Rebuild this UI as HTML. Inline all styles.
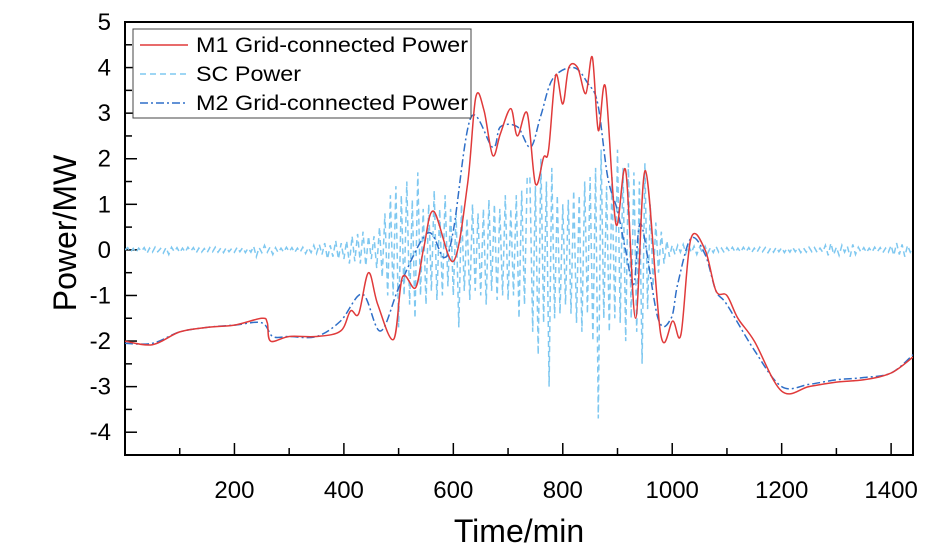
<!DOCTYPE html>
<html><head><meta charset="utf-8"><style>
html,body{margin:0;padding:0;background:#fff;}
svg{display:block;font-family:"Liberation Sans",Arial,sans-serif;}
</style></head><body>
<svg id="chart" width="938" height="555" viewBox="0 0 938 555">
<g id="axes"></g>
<g id="plot"></g>
<g id="legend"></g>
</svg>
<script>
const xTicks = [200,400,600,800,1000,1200,1400];
const yTicks = [-4,-3,-2,-1,0,1,2,3,4,5];
const m1Times = [0,50,100,150,200,250,260,266,300,350,394,412,427,445,462,491,507,531,546,564,600,626,641,656,672,686,705,717,735,750,765,774,787,800,811,827,842,854,865,878,897,915,933,951,979,1001,1016,1034,1060,1080,1100,1120,1150,1200,1250,1300,1350,1400,1440];
const m1Values = [-2.0,-2.08,-1.8,-1.7,-1.65,-1.5,-1.6,-2.0,-1.9,-1.9,-1.78,-1.34,-1.4,-0.5,-1.2,-1.96,-0.6,-0.83,0.05,0.85,-0.25,1.45,3.35,3.06,2.07,2.55,3.1,2.5,3.0,1.45,2.03,2.18,3.83,3.2,4.0,4.0,3.43,4.23,2.62,3.57,0.57,1.74,-1.5,1.74,-1.85,-1.56,-1.85,0.24,0.0,-0.9,-1.0,-1.5,-2.0,-3.1,-3.0,-2.9,-2.85,-2.7,-2.35];
const m2Times = [0,50,100,150,200,250,270,300,350,394,434,467,503,553,583,600,632,672,686,717,741,760,782,820,846,864,882,900,915,930,943,974,998,1010,1034,1060,1080,1100,1150,1200,1250,1300,1350,1400,1440];
const m2Values = [-2.05,-2.05,-1.8,-1.7,-1.65,-1.6,-1.9,-1.9,-1.9,-1.56,-0.97,-1.78,-0.75,0.37,-0.17,0.42,2.9,2.25,2.7,2.7,2.25,2.95,3.76,4.0,3.65,3.2,1.6,0.86,-0.02,-0.75,0.57,-1.5,-1.5,-0.75,0.25,-0.1,-0.9,-1.2,-2.2,-3.0,-2.95,-2.85,-2.8,-2.7,-2.3];
const scStep = 5;
const scValues = [
0,0.05,-0.05,0.03,-0.06,0.04,-0.03,0.05,-0.08,0.04,
-0.05,0.06,-0.04,0.03,-0.07,0.05,-0.1,0.06,-0.04,0.05,
-0.06,0.04,-0.05,0.06,-0.03,0.05,-0.07,0.04,-0.05,0.03,
-0.06,0.05,-0.04,0.06,-0.05,0.04,-0.06,0.05,-0.04,0.03,
-0.05,0.06,-0.04,0.05,-0.06,0.04,-0.05,0.08,-0.15,0.05,
-0.06,0.1,-0.05,0.06,-0.1,0.05,-0.06,0.04,-0.05,0.06,
-0.04,0.05,-0.06,0.04,-0.05,0.06,-0.08,0.05,-0.06,0.1,
-0.08,0.12,-0.1,0.15,-0.2,0.1,-0.15,0.2,-0.2,0.15,
-0.2,0.2,-0.3,0.3,-0.25,0.35,-0.3,0.4,-0.35,0.3,
-0.2,0.3,-0.4,0.5,-0.6,0.8,-1.0,1.2,-1.0,1.4,
-1.7,1.2,-1.0,1.5,-1.2,1.1,-1.5,1.7,-1.0,0.9,
-1.2,1.0,-0.9,1.3,-1.1,0.9,-1.0,1.2,-0.8,0.9,
-1.0,0.8,-1.7,1.0,-0.9,0.7,-1.1,1.0,-0.9,0.8,
-1.0,0.9,-1.2,1.1,-0.9,1.0,-1.1,0.9,-1.0,1.2,
-1.1,0.9,-1.0,1.2,-1.5,1.3,-1.2,1.6,1.6,-1.8,
1.4,-2.3,2.0,-1.6,1.5,-3.0,1.8,-1.5,1.2,-1.4,
1.0,-1.2,1.1,-1.4,1.3,-1.6,1.2,-1.8,1.5,-1.4,
1.6,-2.0,1.8,-3.7,2.2,-1.5,1.4,-1.8,1.6,-1.5,
2.2,-1.6,1.8,-2.0,1.9,-1.5,1.7,-1.8,1.5,-2.5,
1.9,-1.3,1.0,-0.8,0.6,-0.5,0.4,-0.3,0.2,-0.15,
0.1,-0.1,0.1,-0.05,0.12,-0.08,0.1,-0.06,0.08,-0.1,
0.06,-0.05,0.08,-0.07,0.05,-0.06,0.08,-0.05,0.04,-0.06,
0.05,-0.04,0.06,-0.05,0.04,-0.05,0.06,-0.04,0.05,-0.06,
0.04,-0.05,0.06,-0.04,0.05,-0.06,0.04,-0.05,0.06,-0.04,
0.05,-0.06,0.04,-0.05,0.06,-0.04,0.05,-0.06,0.04,-0.05,
0.06,-0.04,0.05,-0.06,0.04,-0.05,0.1,-0.12,0.15,-0.1,
0.06,-0.12,0.1,-0.05,0.08,-0.15,0.12,-0.1,0.06,-0.05,
0.05,-0.06,0.04,-0.05,0.06,-0.04,0.05,-0.06,0.04,-0.05,
0.1,-0.12,0.15,-0.1,0.12,-0.15,0.1,-0.05,0.05
];
const NS = 'http://www.w3.org/2000/svg';
const L = 125, R = 913, T = 22, B = 455;
const xMin = 0, xMax = 1440, yMin = -4.5, yMax = 5;
function xs(v){ return L + (v - xMin) / (xMax - xMin) * (R - L); }
function ys(v){ return B - (v - yMin) / (yMax - yMin) * (B - T); }
function mk(tag, attrs, parent){ const e = document.createElementNS(NS, tag); for (const k in attrs) e.setAttribute(k, attrs[k]); parent.appendChild(e); return e; }
const axes = document.getElementById('axes');
const plot = document.getElementById('plot');
const legend = document.getElementById('legend');

const clip = mk('clipPath', {id:'pc'}, document.getElementById('chart'));
mk('rect', {x:L, y:T, width:R-L, height:B-T}, clip);
plot.setAttribute('clip-path', 'url(#pc)');

for (let v = 100; v <= 1400; v += 100) {
  const major = v % 200 === 0;
  const t = mk('line', {x1:xs(v), x2:xs(v), y1:B, y2:B-(major?12:7), stroke:'#000', 'stroke-width':1.5}, axes);
  
  
}
xTicks.forEach(v => {
  const t = mk('text', {x:xs(v), y:498, 'text-anchor':'middle', 'font-size':24}, axes);
  t.textContent = v;
  
  
});
for (let v = -4.5; v <= 5; v += 0.5) {
  const major = Math.abs(v - Math.round(v)) < 1e-6;
  const t = mk('line', {x1:L, x2:L+(major?12:7), y1:ys(v), y2:ys(v), stroke:'#000', 'stroke-width':1.5}, axes);
  
  
}
yTicks.forEach(v => {
  const t = mk('text', {x:111, y:ys(v)+8, 'text-anchor':'end', 'font-size':24}, axes);
  t.textContent = v;
  
  
});
const frame = mk('rect', {x:L, y:T, width:R-L, height:B-T, fill:'none', stroke:'#000', 'stroke-width':2}, axes);


const xt = mk('text', {x:519, y:542, 'text-anchor':'middle', 'font-size':32}, axes);
xt.textContent = 'Time/min';


const yt = mk('text', {x:0, y:0, 'text-anchor':'middle', 'font-size':32, transform:'translate(76,233) rotate(-90)'}, axes);
yt.textContent = 'Power/MW';



function pathFrom(times, vals){ return times.map((t,i)=>(i?'L':'M')+xs(t).toFixed(1)+','+ys(vals[i]).toFixed(1)).join(''); }
function smoothPath(times, vals){
  const p = times.map((t,i)=>[xs(t), ys(vals[i])]);
  let d = 'M'+p[0][0].toFixed(1)+','+p[0][1].toFixed(1);
  for (let i = 0; i < p.length-1; i++) {
    const p0 = p[Math.max(0,i-1)], p1 = p[i], p2 = p[i+1], p3 = p[Math.min(p.length-1,i+2)];
    const c1x = p1[0] + (p2[0]-p0[0])/6, c1y = p1[1] + (p2[1]-p0[1])/6;
    const c2x = p2[0] - (p3[0]-p1[0])/6, c2y = p2[1] - (p3[1]-p1[1])/6;
    d += 'C'+c1x.toFixed(1)+','+c1y.toFixed(1)+' '+c2x.toFixed(1)+','+c2y.toFixed(1)+' '+p2[0].toFixed(1)+','+p2[1].toFixed(1);
  }
  return d;
}
const scTimes = scValues.map((_, i) => i * scStep);
const sc = mk('path', {d:pathFrom(scTimes, scValues), fill:'none', stroke:'#7fc8f0', 'stroke-width':1.5, 'stroke-dasharray':'6,4'}, plot);


const m2 = mk('path', {d:smoothPath(m2Times, m2Values), fill:'none', stroke:'#2f6fc8', 'stroke-width':1.5, 'stroke-dasharray':'8,3,2,3', 'stroke-linejoin':'round'}, plot);


const m1 = mk('path', {d:smoothPath(m1Times, m1Values), fill:'none', stroke:'#e03a3a', 'stroke-width':1.5, 'stroke-linejoin':'round'}, plot);



const lb = mk('rect', {x:133, y:29, width:338, height:89, fill:'#fff', stroke:'#444', 'stroke-width':1}, legend);


const entries = [['M1 Grid-connected Power','#e03a3a','none',45],['SC Power','#7fc8f0','6,4',74],['M2 Grid-connected Power','#2f6fc8','8,3,2,3',103]];
entries.forEach(e => {
  const ln = mk('line', {x1:140, x2:188, y1:e[3], y2:e[3], stroke:e[1], 'stroke-width':1.5, 'stroke-dasharray':e[2]}, legend);
  
  
  const tx = mk('text', {x:196, y:e[3]+7, 'font-size':21, textLength:272, lengthAdjust:'spacingAndGlyphs'}, legend);
  if (e[0] === 'SC Power') tx.setAttribute('textLength', 105);
  tx.textContent = e[0];
  
  
});
</script>
</body></html>
